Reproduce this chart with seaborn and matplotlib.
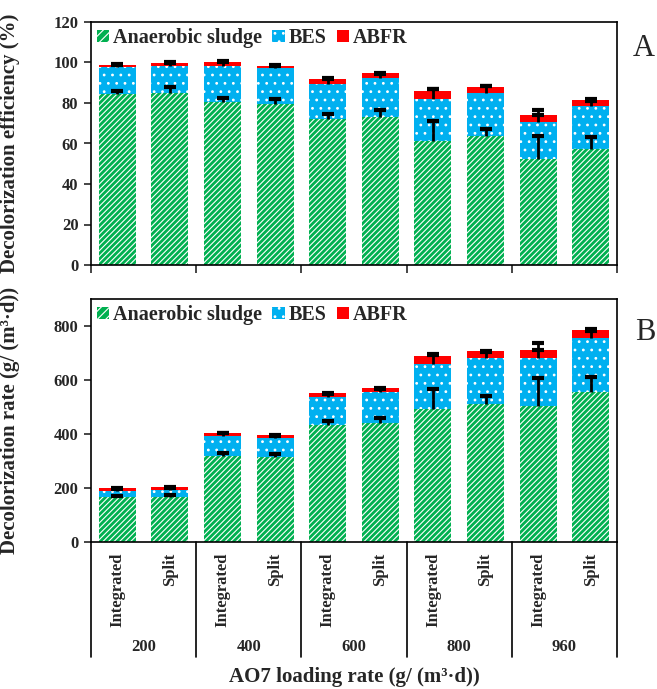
import matplotlib
matplotlib.use("Agg")
import matplotlib.pyplot as plt
import matplotlib.transforms as mtransforms
from matplotlib.patches import Patch
import seaborn as sns
import numpy as np
import pandas as pd

# ---------------- data ----------------
loading_rates = ["200", "400", "600", "800", "960"]
modes = ["Integrated", "Split"]
series_names = ["Anaerobic sludge", "BES", "ABFR"]

# Panel A: decolorization efficiency (%) - stacked contributions
eff_sludge = [84.3, 85.1, 80.6, 79.6, 72.2, 73.1, 61.3, 63.6, 52.1, 57.4]
eff_bes = [13.3, 13.1, 17.8, 17.5, 17.1, 19.3, 20.9, 21.4, 18.6, 21.1]
eff_abfr = [1.4, 1.6, 1.6, 1.4, 2.4, 2.3, 3.9, 3.0, 3.4, 3.1]
eff_sludge_err = [1.5, 2.6, 2.1, 2.3, 2.6, 3.2, 9.6, 3.8, 11.6, 5.8]
eff_bes_err = [1.3, 1.5, 1.6, 1.3, 2.4, 2.0, 4.5, 3.3, 3.4, 2.6]
eff_abfr_err = [0.3, 0.2, 0.6, 0.2, 0.8, 0.3, 0.6, 0.5, 2.4, 0.4]

# Panel B: decolorization rate (g/(m3.d)) - stacked contributions
rate_sludge = [165, 168, 319, 316, 433, 439, 494, 512, 504, 555]
rate_bes = [25, 25, 75, 70, 105, 115, 165, 169, 178, 199]
rate_abfr = [10, 9, 10, 11, 13, 16, 30, 25, 30, 32]
rate_sludge_err = [7, 7, 12, 11, 17, 20, 74, 27, 105, 57]
rate_bes_err = [5, 6, 8, 8, 12, 12, 37, 22, 28, 28]
rate_abfr_err = [1, 1, 1, 1, 2, 1, 3, 2, 25, 3]

# ---------------- style ----------------
GREEN = "#00B050"
BLUE = "#00B0F0"
RED = "#FF0000"

sns.set_theme(style="white")
plt.rcParams["font.family"] = ["Liberation Serif", "DejaVu Serif"]
plt.rcParams["hatch.linewidth"] = 0.8
plt.rcParams["axes.edgecolor"] = "black"
plt.rcParams["axes.linewidth"] = 1.2

fig = plt.figure(figsize=(6.57, 6.89), dpi=100)
left, width, height = 91 / 657, 526 / 657, 243 / 689
axA = fig.add_axes([left, 1 - 265 / 689, width, height])
axB = fig.add_axes([left, 1 - 542 / 689, width, height])

bar_ids = [f"{r}-{m}" for r in loading_rates for m in modes]
mode_labels = [m for r in loading_rates for m in modes]


def stacked(ax, s1, s2, s3, e1, e2, e3):
    s1 = np.array(s1, float)
    c2 = s1 + np.array(s2, float)
    c3 = c2 + np.array(s3, float)
    df = pd.DataFrame({"bar": bar_ids, "c1": s1, "c2": c2, "c3": c3})
    layers = [("c3", RED, None), ("c2", BLUE, ".."), ("c1", GREEN, "//////")]
    for col, colr, hatch in layers:
        n0 = len(ax.patches)
        sns.barplot(data=df, x="bar", y=col, order=bar_ids, color=colr,
                    width=0.7, saturation=1, edgecolor="white", linewidth=0,
                    ax=ax)
        for p in ax.patches[n0:]:
            p.set_facecolor(colr)
            p.set_linewidth(0)
            if hatch:
                p.set_hatch(hatch)
                p.set_edgecolor("white")
            else:
                p.set_edgecolor("none")
    x = np.arange(len(bar_ids))
    # plus-only error bars (stem + top cap)
    for top, err in [(s1, e1), (c2, e2), (c3, e3)]:
        err = np.array(err, float)
        ax.vlines(x, top, top + err, color="black", lw=2.0, zorder=5)
        ax.plot(x, top + err, ls="none", marker="_", ms=9, mew=3.0,
                color="black", zorder=6)
    ax.set_xlim(-0.5, len(bar_ids) - 0.5)


stacked(axA, eff_sludge, eff_bes, eff_abfr, eff_sludge_err, eff_bes_err, eff_abfr_err)
stacked(axB, rate_sludge, rate_bes, rate_abfr, rate_sludge_err, rate_bes_err, rate_abfr_err)

tick_font = dict(fontsize=12, fontweight="bold")
label_font = dict(fontsize=15, fontweight="bold")

# Panel A axes
axA.set_ylim(0, 120)
axA.set_yticks(np.arange(0, 121, 20))
axA.set_yticklabels([str(v) for v in range(0, 121, 20)], **tick_font)
axA.set_xticks(np.arange(-0.5, 10, 2))
axA.set_xticklabels([])
axA.tick_params(axis="x", direction="out", length=6, width=1.2, bottom=True)
axA.tick_params(axis="y", direction="out", length=5, width=1.2, left=True, pad=4)
axA.set_xlabel("")
axA.set_ylabel("Decolorization efficiency (%)", **label_font)
axA.yaxis.set_label_coords(-0.135, 0.5)

# Panel B axes
axB.set_ylim(0, 900)
axB.set_yticks(np.arange(0, 801, 200))
axB.set_yticklabels([str(v) for v in range(0, 801, 200)], **tick_font)
axB.set_xticks(np.arange(len(bar_ids)))
axB.set_xticklabels(mode_labels, rotation=90, **tick_font)
axB.tick_params(axis="x", length=0, pad=8)
axB.tick_params(axis="y", direction="out", length=5, width=1.2, left=True, pad=4)
axB.set_xlabel("")
axB.set_ylabel("Decolorization rate (g/ (m³·d))", **label_font)
axB.yaxis.set_label_coords(-0.135, 0.5)

trans = mtransforms.blended_transform_factory(axB.transData, axB.transAxes)
for b in np.arange(-0.5, 10, 2):
    axB.plot([b, b], [0, -0.473], transform=trans, color="black", lw=1.2,
             clip_on=False)
for i, r in enumerate(loading_rates):
    axB.text(2 * i + 0.5, -0.432, r, transform=trans, ha="center", va="center",
             **tick_font)

fig.text(354 / 657, 1 - 677 / 689, "AO7 loading rate (g/ (m³·d))",
         ha="center", va="center", **label_font)

for ax in (axA, axB):
    for s in ax.spines.values():
        s.set_visible(True)
        s.set_color("black")
        s.set_linewidth(1.2)
    handles = [Patch(facecolor=GREEN, edgecolor="white", hatch="////", linewidth=0),
               Patch(facecolor=BLUE, edgecolor="white", hatch="..", linewidth=0),
               Patch(facecolor=RED, edgecolor="none", linewidth=0)]
    ax.legend(handles, series_names, loc="upper left", ncol=3, frameon=False,
              bbox_to_anchor=(0.012, 0.975), borderaxespad=0, borderpad=0,
              handlelength=0.6, handleheight=0.6, handletextpad=0.2,
              columnspacing=0.5, prop=dict(family=["Liberation Serif"], weight="bold", size=14.5))

fig.text(644 / 657, 1 - 48 / 689, "A", fontsize=22, ha="center", va="center")
fig.text(645 / 657, 1 - 332 / 689, "B", fontsize=22, ha="center", va="center")

fig.savefig("out.png", dpi=100)
